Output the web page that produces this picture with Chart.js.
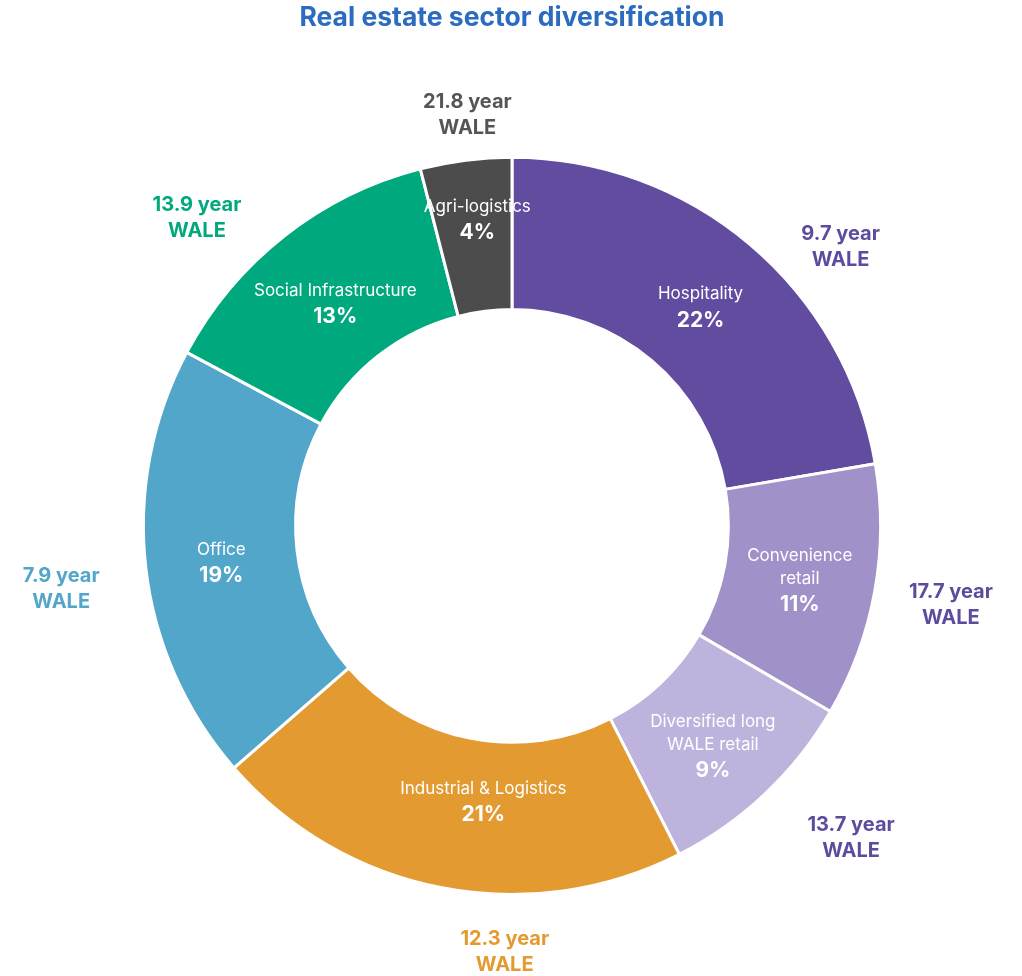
<!DOCTYPE html>
<html>
<head>
<meta charset="utf-8">
<script src="https://cdn.jsdelivr.net/npm/chart.js@4"></script>
<style>
  html, body { margin: 0; padding: 0; background: #fff; }
  #wrap { width: 1022px; height: 976px; }
</style>
</head>
<body>
<div id="wrap"><canvas id="sectorChart"></canvas></div>
<script>
// Sector names (split into lines as they appear in the ring)
const sectors = [
    ['Hospitality'],
    ['Convenience', 'retail'],
    ['Diversified long', 'WALE retail'],
    ['Industrial & Logistics'],
    ['Office'],
    ['Social Infrastructure'],
    ['Agri-logistics']
];
// Share of portfolio (%)
const shares = [22.3, 11.1, 9.1, 21.1, 19.2, 13.2, 4.0];
// Weighted average lease expiry (years)
const wale = [9.7, 17.7, 13.7, 12.3, 7.9, 13.9, 21.8];

const sliceColors = ['#624ca0', '#a091c9', '#bdb3dc', '#e39b31', '#52a6ca', '#00a87d', '#4c4c4c'];
const waleColors = ['#5e4b9e', '#5e4b9e', '#5e4b9e', '#e39b31', '#52a6ca', '#00a87d', '#555555'];

// nudges for the inner labels (px) and outer WALE labels (degrees, radius factor)
const innerNudge = [[0, 3], [0, 0], [0, 6], [27, -13], [0, 2], [4, 6], [2, -18]];
const waleAngleShift = [9.5, 0, -4, -10, -1.5, -7.5, 1];
const waleRadius = [1.17, 1.21, 1.25, 1.155, 1.235, 1.195, 1.12];

const FONT = 'Inter, Roboto, sans-serif';

// Plugin drawing the labels inside and around the ring
const ringLabels = {
    id: 'ringLabels',
    afterDatasetsDraw(chart) {
        const ctx = chart.ctx;
        const arcs = chart.getDatasetMeta(0).data;
        ctx.save();
        ctx.textAlign = 'center';
        ctx.textBaseline = 'middle';
        arcs.forEach((arc, i) => {
            const p = arc.getProps(['x', 'y', 'startAngle', 'endAngle', 'innerRadius', 'outerRadius'], true);
            const mid = (p.startAngle + p.endAngle) / 2;
            const rMid = (p.innerRadius + p.outerRadius) / 2;
            const ix = p.x + Math.cos(mid) * rMid + innerNudge[i][0];
            const iy = p.y + Math.sin(mid) * rMid + innerNudge[i][1];

            // inside: name + percent
            const lines = sectors[i];
            const nameStep = 23;
            const blockH = (lines.length - 1) * nameStep + 26;
            let y = iy - blockH / 2 + 2;
            ctx.fillStyle = '#ffffff';
            ctx.font = '17px ' + FONT;
            lines.forEach(line => {
                ctx.fillText(line, ix, y);
                y += nameStep;
            });
            ctx.font = 'bold 21px ' + FONT;
            ctx.fillText(Math.round(shares[i]) + '%', ix, y + 3);

            // outside: WALE
            const a = mid + waleAngleShift[i] * Math.PI / 180;
            const r = p.outerRadius * waleRadius[i];
            const ox = p.x + Math.cos(a) * r;
            const oy = p.y + Math.sin(a) * r;
            ctx.fillStyle = waleColors[i];
            ctx.font = 'bold 20px ' + FONT;
            ctx.fillText(wale[i] + ' year', ox, oy - 13);
            ctx.fillText('WALE', ox, oy + 13);
        });
        ctx.restore();
    }
};

const ctx = document.getElementById('sectorChart').getContext('2d');
const sectorChart = new Chart(ctx, {
    type: 'doughnut',
    data: {
        labels: sectors.map(s => s.join(' ')),
        datasets: [{
            data: shares,
            backgroundColor: sliceColors,
            borderColor: '#ffffff',
            borderWidth: 3
        }]
    },
    options: {
        responsive: true,
        maintainAspectRatio: false,
        animation: false,
        cutout: '58.7%',
        layout: {
            padding: { top: 0, left: 140, right: 138, bottom: 80 }
        },
        plugins: {
            legend: { display: false },
            tooltip: { enabled: false },
            title: {
                display: true,
                text: 'Real estate sector diversification',
                color: '#2b6cc0',
                font: { family: FONT, size: 26.5, weight: 'bold' },
                padding: { top: 2, bottom: 122 }
            }
        }
    },
    plugins: [ringLabels]
});
</script>
</body>
</html>
